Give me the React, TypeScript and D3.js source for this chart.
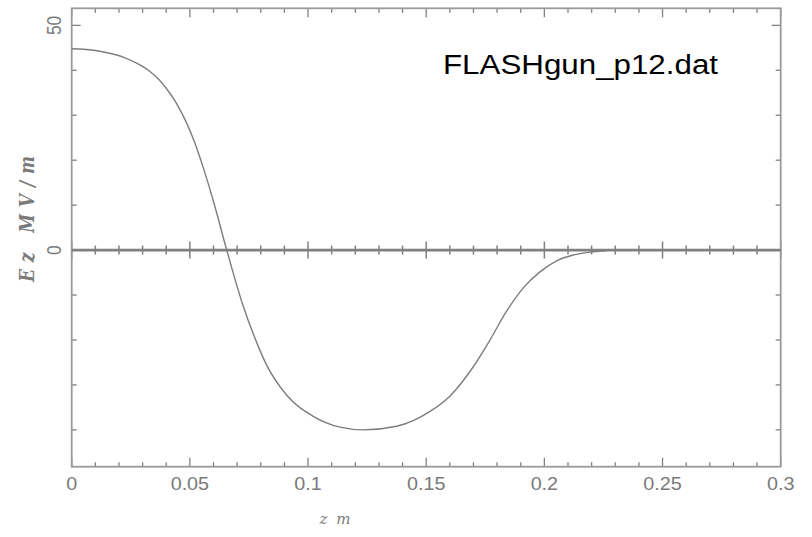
import React from "react";
import * as d3 from "d3";

// Curve samples (z in m, Ez in MV/m)
const zValues = [0, 0.005, 0.01, 0.016, 0.022, 0.0275, 0.033, 0.037, 0.04, 0.0444, 0.0487, 0.052, 0.0557, 0.06, 0.0656, 0.0726, 0.0768, 0.0825, 0.091, 0.1022, 0.1135, 0.1234, 0.1375, 0.1516, 0.16, 0.17, 0.177, 0.184, 0.1911, 0.198, 0.2052, 0.2122, 0.2193, 0.226];
const ezValues = [44.8, 44.7, 44.4, 43.8, 42.9, 41.6, 39.8, 37.9, 36.0, 32.6, 28.2, 24.0, 18.3, 10.8, 0, -12.5, -18.6, -25.6, -32.3, -37.0, -39.4, -40.0, -39.2, -35.9, -32.5, -25.9, -20.0, -13.6, -8.4, -4.9, -2.4, -1.1, -0.45, -0.15];

const xTickLabels = ["0", "0.05", "0.1", "0.15", "0.2", "0.25", "0.3"];
const xTickValues = [0, 0.05, 0.1, 0.15, 0.2, 0.25, 0.3];
const yTickLabels = ["50", "0"];
const yTickValues = [50, 0];
const xMinorValues = d3.range(0, 31).map((i) => i / 100);
const yMinorValues = d3.range(-4, 6).map((i) => i * 10);

const titleText = "FLASHgun_p12.dat";
const yAxisTitle = "Ez MV/m";
const xAxisTitle = "z m";

const W = 812;
const H = 537;
const L = 71.7;
const R = 780.7;
const T = 8.3;
const B = 466.7;

export default function App() {
  const x = d3.scaleLinear().domain([0, 0.3]).range([L, R]);
  const y = d3.scaleLinear().domain([-48.2, 53.8]).range([B, T]);
  const pts = zValues.map((z, i) => [z, ezValues[i]] as [number, number]);
  const line = d3
    .line<[number, number]>()
    .x((d) => x(d[0]))
    .y((d) => y(d[1]))
    .curve(d3.curveMonotoneX);

  const axisColor = "#9a9a9a";
  const tickColor = "#808080";
  const labelColor = "#7a7a7a";
  const isMajorX = (v: number) => Math.abs(Math.round(v * 20) - v * 20) < 1e-6;
  const isMajorY = (v: number) => v % 50 === 0;

  return (
    <svg width={W} height={H} style={{ position: "absolute", left: 0, top: 0, background: "#fff" }}>
      {/* ticks top & bottom */}
      {xMinorValues.map((v, i) => {
        const len = isMajorX(v) ? 9 : 4.5;
        const xx = x(v);
        return (
          <g key={"xt" + i} stroke={tickColor} strokeWidth={1.3}>
            <line x1={xx} x2={xx} y1={B} y2={B - len} />
            <line x1={xx} x2={xx} y1={T} y2={T + len} />
            <line x1={xx} x2={xx} y1={y(0) - (isMajorX(v) ? 8.5 : 4.5)} y2={y(0) + (isMajorX(v) ? 8.5 : 4.5)} strokeWidth={1.5} />
          </g>
        );
      })}
      {/* ticks left & right */}
      {yMinorValues.map((v, i) => {
        const len = isMajorY(v) ? 9 : 5;
        const yy = y(v);
        return (
          <g key={"yt" + i} stroke={tickColor} strokeWidth={1.3}>
            <line x1={L} x2={L + len} y1={yy} y2={yy} />
            <line x1={R} x2={R - len} y1={yy} y2={yy} />
          </g>
        );
      })}
      {/* frame */}
      <rect x={L} y={T} width={R - L} height={B - T} fill="none" stroke={axisColor} strokeWidth={1.8} />
      {/* zero line */}
      <line x1={L} x2={R} y1={y(0)} y2={y(0)} stroke="#808080" strokeWidth={2.6} />
      {/* curve */}
      <path d={line(pts) || ""} fill="none" stroke="#7d7d7d" strokeWidth={1.4} />

      {/* x tick labels */}
      {xTickValues.map((v, i) => (
        <text
          key={"xl" + i}
          transform={`translate(${x(v)},489.5) scale(1.13,1)`}
          textAnchor="middle"
          fontFamily="Liberation Sans, Arial, sans-serif"
          fontSize={17.5}
          fill={labelColor}
        >
          {xTickLabels[i]}
        </text>
      ))}
      {/* y tick labels (rotated) */}
      {yTickValues.map((v, i) => (
        <text
          key={"yl" + i}
          transform={`translate(61,${y(v)}) scale(1.18,1) rotate(-90)`}
          textAnchor="middle"
          fontFamily="Liberation Sans, Arial, sans-serif"
          fontSize={17.5}
          fill={labelColor}
        >
          {yTickLabels[i]}
        </text>
      ))}
      {/* axis titles */}
      <text
        transform={`translate(34,219) scale(1.18,1) rotate(-90)`}
        textAnchor="middle"
        fontFamily="DejaVu Serif, serif"
        fontStyle="italic"
        fontWeight="bold"
        fontSize={17}
        fill={labelColor}
        textLength={126}
        lengthAdjust="spacing"
      >
        {yAxisTitle}
      </text>
      <text
        x={336}
        y={524}
        textAnchor="middle"
        fontFamily="DejaVu Serif, serif"
        fontStyle="italic"
        fontSize={15}
        fill={labelColor}
        letterSpacing={2}
      >
        {xAxisTitle}
      </text>
      {/* title */}
      <text
        x={443}
        y={74}
        fontFamily="Liberation Sans, Arial, sans-serif"
        fontSize={27}
        fill="#000"
        textLength={275}
        lengthAdjust="spacingAndGlyphs"
      >
        {titleText}
      </text>
    </svg>
  );
}
